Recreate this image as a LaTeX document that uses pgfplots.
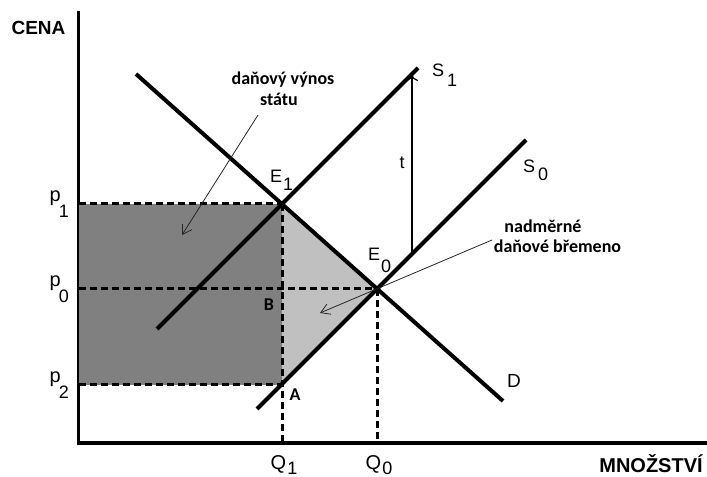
\documentclass[border=0pt]{standalone}
\usepackage{fontspec}
\setmainfont{Liberation Sans}
\newfontfamily\calib{Carlito}
\usepackage{pgfplots}
\pgfplotsset{compat=1.18}
\usetikzlibrary{arrows.meta}
\definecolor{darkshade}{RGB}{128,128,128}
\definecolor{lightshade}{RGB}{192,192,192}
\newcommand{\lo}[2]{\raisebox{-#1}{\fontsize{18bp}{20bp}\selectfont #2}}
\begin{document}
\begin{tikzpicture}
\useasboundingbox (-79bp,-34bp) rectangle (628bp,443bp);
\begin{axis}[
  scale only axis, width=626bp, height=430bp,
  xmin=0, xmax=626, ymin=0, ymax=430,
  axis lines*=left,
  axis line style={line width=3bp, line cap=rect},
  clip=false,
  major tick length=0pt,
  xtick={203,298},
  xticklabels={Q\kern1bp\lo{5bp}{1}, Q\kern1bp\lo{5bp}{0}},
  ytick={58,154,239},
  yticklabels={p\kern-2bp\lo{16bp}{2}, p\kern-2bp\lo{16bp}{0}, p\kern-2bp\lo{16bp}{1}},
  ticklabel style={font=\fontsize{20bp}{24bp}\selectfont},
  xticklabel style={anchor=base, inner sep=0pt, yshift=-26bp, xshift=2bp},
  yticklabel style={anchor=base east, inner sep=0pt, xshift=-10bp, yshift=3bp},
]
% shaded areas
\addplot[draw=none, fill=darkshade] coordinates {(0,58) (203,58) (203,239) (0,239)} -- cycle;
\addplot[draw=none, fill=lightshade] coordinates {(203,239) (298,154) (203,58)} -- cycle;
% dashed guide lines
\addplot[black, line width=3bp, dash pattern=on 7bp off 4bp] coordinates {(0,239) (203,239)};
\addplot[black, line width=3bp, dash pattern=on 7bp off 4bp] coordinates {(0,154) (298,154)};
\addplot[black, line width=3bp, dash pattern=on 7bp off 4bp] coordinates {(0,58) (203,58)};
\addplot[black, line width=3bp, dash pattern=on 7bp off 4bp] coordinates {(203,239) (203,0)};
\addplot[black, line width=3bp, dash pattern=on 7bp off 4bp] coordinates {(298,154) (298,0)};
% demand D
\addplot[black, line width=4bp] coordinates {(57,369) (424,42)};
% supply S1
\addplot[black, line width=4bp] coordinates {(78,114) (339,375)};
% supply S0
\addplot[black, line width=4bp] coordinates {(178,34) (447,303)};
% tax t arrow
\addplot[black, line width=1.2bp, -{To[length=6bp,width=12bp]}] coordinates {(333,189) (333,368)};
% annotation arrows
\addplot[black!85, line width=0.8bp, -{Straight Barb[length=9bp,width=11bp]}] coordinates {(179,328) (103,208)};
\addplot[black!85, line width=0.8bp, -{Straight Barb[length=9bp,width=11bp]}] coordinates {(413,203) (241,130)};
% labels
\node[anchor=center, inner sep=0pt, font=\bfseries\fontsize{19bp}{22bp}\selectfont] at (-40.5,415.5) {CENA};
\node[anchor=base, inner sep=0pt, font=\bfseries\fontsize{20bp}{22bp}\selectfont] at (572,-29) {MNOŽSTVÍ};
\node[anchor=base west, inner sep=0pt, font=\fontsize{18bp}{20bp}\selectfont] at (353,367) {S\kern3bp\lo{10bp}{1}};
\node[anchor=base west, inner sep=0pt, font=\fontsize{18bp}{20bp}\selectfont] at (444,271) {S\kern3bp\lo{8bp}{0}};
\node[anchor=base west, inner sep=0pt, font=\fontsize{18bp}{20bp}\selectfont] at (191,261) {E\kern1bp\lo{8bp}{1}};
\node[anchor=base west, inner sep=0pt, font=\fontsize{18bp}{20bp}\selectfont] at (289,183) {E\kern1bp\lo{12bp}{0}};
\node[anchor=base west, inner sep=0pt, font=\fontsize{19bp}{20bp}\selectfont] at (428,56) {D};
\node[anchor=base, inner sep=0pt, font=\fontsize{18bp}{20bp}\selectfont] at (323,275) {t};
\node[anchor=center, inner sep=0pt, font=\calib\bfseries\fontsize{18bp}{20bp}\selectfont] at (190,138) {B};
\node[anchor=center, inner sep=0pt, font=\calib\bfseries\fontsize{18bp}{20bp}\selectfont] at (216,48) {A};
\node[anchor=base, inner sep=0pt, font=\calib\bfseries\fontsize{18bp}{20bp}\selectfont] at (204,359) {daňový výnos};
\node[anchor=base, inner sep=0pt, font=\calib\bfseries\fontsize{18bp}{20bp}\selectfont] at (200,338) {státu};
\node[anchor=base, inner sep=0pt, font=\calib\bfseries\fontsize{18bp}{20bp}\selectfont] at (464,211) {nadměrné};
\node[anchor=base, inner sep=0pt, font=\calib\bfseries\fontsize{18bp}{20bp}\selectfont] at (478.5,191) {daňové břemeno};
\end{axis}
\end{tikzpicture}
\end{document}
